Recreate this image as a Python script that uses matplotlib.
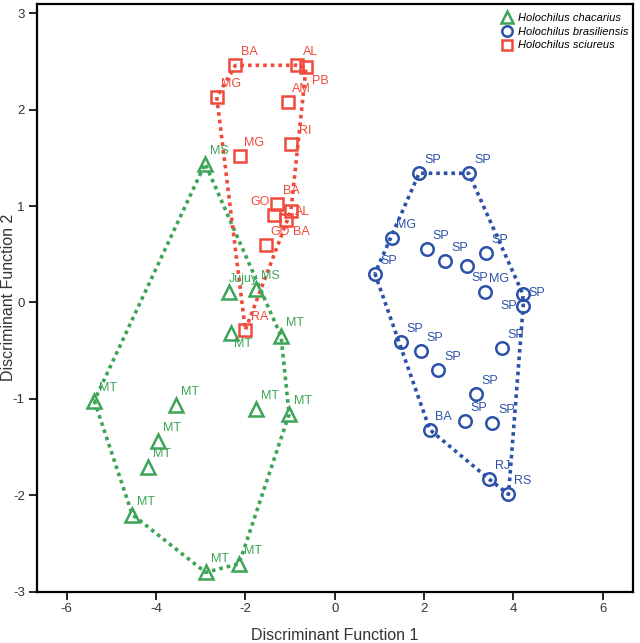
import numpy as np
import matplotlib.pyplot as plt
from matplotlib.lines import Line2D

plt.rcParams['font.family'] = ['Liberation Sans', 'DejaVu Sans']
plt.rcParams['axes.unicode_minus'] = False

# discriminant scores
chac_x = [-2.90, -2.36, -1.75, -2.31, -1.20, -5.38, -3.55, -1.75, -1.02, -3.96, -4.17, -4.53, -2.89, -2.14]
chac_y = [1.44, 0.11, 0.14, -0.32, -0.35, -1.02, -1.06, -1.11, -1.16, -1.44, -1.71, -2.20, -2.80, -2.71]
chac_lab = ['MS', 'Jujuy', 'MS', 'MT', 'MT', 'MT', 'MT', 'MT', 'MT', 'MT', 'MT', 'MT', 'MT', 'MT']

bras_x = [1.89, 3.00, 1.28, 0.90, 2.06, 2.48, 2.96, 3.39, 3.37, 4.21, 4.22,
          1.48, 1.93, 2.32, 3.74, 3.16, 2.92, 3.53, 2.13, 3.45, 3.89]
bras_y = [1.34, 1.34, 0.67, 0.30, 0.555, 0.43, 0.38, 0.51, 0.11, 0.088, -0.033,
          -0.41, -0.50, -0.70, -0.475, -0.95, -1.23, -1.25, -1.32, -1.83, -1.99]
bras_lab = ['SP', 'SP', 'MG', 'SP', 'SP', 'SP', 'SP', 'SP', 'MG', 'SP', 'SP',
            'SP', 'SP', 'SP', 'SP', 'SP', 'SP', 'SP', 'BA', 'RJ', 'RS']

sciu_x = [-2.22, -0.85, -0.64, -2.64, -1.05, -0.98, -2.12, -1.28, -1.36, -0.98, -1.09, -1.54, -2.00]
sciu_y = [2.46, 2.46, 2.44, 2.13, 2.08, 1.64, 1.52, 1.02, 0.91, 0.95, 0.86, 0.60, -0.285]
sciu_lab = ['BA', 'AL', 'PB', 'MG', 'AM', 'RI', 'MG', 'BA', 'GO', 'AL', 'BA', 'GO', 'RA']

green = '#3da558'
blue = '#2c52a8'
red = '#ef4a3c'

# label offsets (pixels) where the label is not up-right of the point
chac_off = {3: (12, -11)}
bras_off = {6: (13, -12), 9: (14, 1), 10: (-14, 0)}
sciu_off = {2: (14, -14), 8: (-14, 13), 9: (12, -1), 10: (15, -12)}


def hull(px, py):
    pts = sorted(zip(px, py))
    def cross(o, a, b):
        return (a[0]-o[0])*(b[1]-o[1]) - (a[1]-o[1])*(b[0]-o[0])
    lower = []
    for p in pts:
        while len(lower) >= 2 and cross(lower[-2], lower[-1], p) <= 0:
            lower.pop()
        lower.append(p)
    upper = []
    for p in reversed(pts):
        while len(upper) >= 2 and cross(upper[-2], upper[-1], p) <= 0:
            upper.pop()
        upper.append(p)
    h = lower[:-1] + upper[:-1]
    h.append(h[0])
    return np.array(h)


fig = plt.figure(figsize=(6.4, 6.43), dpi=100)
ax = fig.add_axes([0.0573, 0.0798, 0.9313, 0.914])

groups = [(chac_x, chac_y, chac_lab, chac_off, green, '^'),
          (bras_x, bras_y, bras_lab, bras_off, blue, 'o'),
          (sciu_x, sciu_y, sciu_lab, sciu_off, red, 's')]

for gx, gy, lab, off, col, mk in groups:
    h = hull(gx, gy)
    ax.plot(h[:, 0], h[:, 1], color=col, lw=2.6, linestyle=(0, (1, 1.1)), zorder=2)

for gx, gy, lab, off, col, mk in groups:
    ms = 9 if mk != '^' else 9.5
    ax.plot(gx, gy, mk, color=col, mfc='none', mew=1.8, markersize=ms, zorder=3)
    for i in range(len(gx)):
        dx, dy = off.get(i, (14, 13))
        ax.annotate(lab[i], (gx[i], gy[i]), xytext=(dx, dy), textcoords='offset pixels',
                    ha='center', va='center', fontsize=9, color=col, zorder=4)

ax.set_xlim(-6.67, 6.67)
ax.set_ylim(-3.0, 3.096)
ax.set_xticks([-6, -4, -2, 0, 2, 4, 6])
ax.set_yticks([-3, -2, -1, 0, 1, 2, 3])
for s in ax.spines.values():
    s.set_linewidth(1.6)
ax.tick_params(direction='out', length=6, width=1.2, labelsize=9.5, labelcolor='#333333', pad=2.5)
ax.set_xlabel('Discriminant Function 1', fontsize=11.5, color='#333333')
ax.set_ylabel('Discriminant Function 2', fontsize=11.5, color='#333333')
ax.xaxis.set_label_coords(0.5, -0.061)
ax.yaxis.set_label_coords(-0.035, 0.5)

handles = [Line2D([], [], marker='^', ls='none', color=green, mfc='none', mew=1.8, markersize=8),
           Line2D([], [], marker='o', ls='none', color=blue, mfc='none', mew=1.8, markersize=7.5),
           Line2D([], [], marker='s', ls='none', color=red, mfc='none', mew=1.8, markersize=7.5)]
leg = ax.legend(handles, ['Holochilus chacarius', 'Holochilus brasiliensis', 'Holochilus sciureus'],
                loc='upper right', bbox_to_anchor=(1.0, 0.992), frameon=False,
                prop={'style': 'italic', 'size': 8}, handletextpad=0.5,
                labelspacing=0.33, handlelength=1.0, borderaxespad=0.2, borderpad=0.2)

fig.savefig('out.png', dpi=100)
